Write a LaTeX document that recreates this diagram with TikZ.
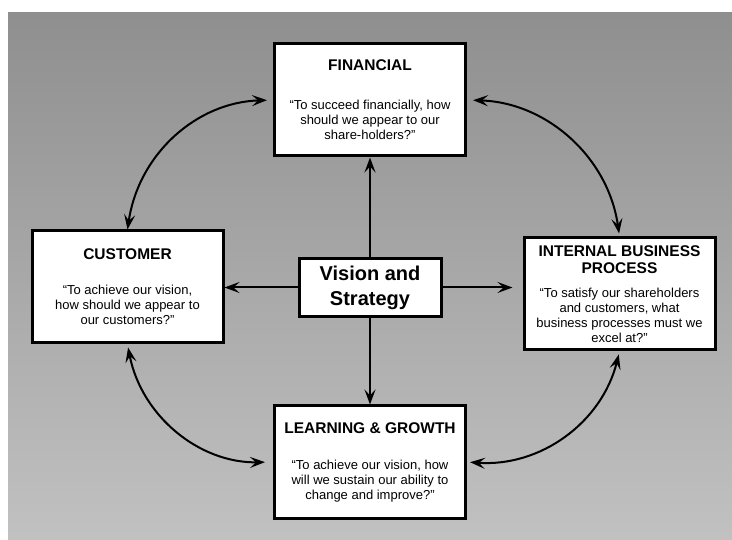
\documentclass[tikz,border=0pt]{standalone}
\usepackage{fontspec}
\setmainfont{Liberation Sans}
\usetikzlibrary{arrows.meta}
\definecolor{bgtop}{RGB}{143,143,143}
\definecolor{bgbottom}{RGB}{193,193,193}
\newcommand{\bodysize}{\fontsize{13}{15}\selectfont}
\newcommand{\headsize}{\fontsize{15.5}{16}\selectfont\bfseries}

\begin{document}
\begin{tikzpicture}[x=1pt,y=1pt,
    panel/.style={draw=black, line width=3pt, fill=white, align=center,
      font=\bodysize, inner sep=0pt, minimum width=191pt, minimum height=112pt},
    core/.style={panel, font=\fontsize{20}{25}\selectfont\bfseries,
      minimum width=142pt, minimum height=58pt},
    spoke/.style={line width=2pt, -{Stealth[length=15pt,width=11pt,inset=6pt]}},
    linkarc/.style={line width=2pt,
      {Stealth[length=15pt,width=11pt,inset=6pt]}-{Stealth[length=15pt,width=11pt,inset=6pt]}}]
  % background
  \fill[white] (0,0) rectangle (732,539);
  \shade[top color=bgtop, bottom color=bgbottom] (8,0) rectangle (732,526);
  % boxes
  \node[panel] (fin) at (370,439)
    {{\headsize FINANCIAL}\\[24pt]
     “To succeed financially, how\\ should we appear to our\\ share-holders?”};
  \node[panel] (cust) at (127.5,252)
    {{\headsize CUSTOMER}\\[20pt]
     “To achieve our vision,\\ how should we appear to\\ our customers?”};
  \node[panel] (int) at (619.5,245)
    {{\headsize INTERNAL BUSINESS}\\[1.5pt]{\headsize PROCESS}\\[9pt]
     “To satisfy our shareholders\\ and customers, what\\ business processes must we\\ excel at?”};
  \node[panel] (learn) at (370,77)
    {{\headsize LEARNING \& GROWTH}\\[21pt]
     “To achieve our vision, how\\ will we sustain our ability to\\ change and improve?”};
  \node[core] (core) at (370,251.5) {Vision and\\ Strategy};
  % spokes
  \draw[spoke] (core.north) -- (fin.south);
  \draw[spoke] (core.south) -- (learn.north);
  \draw[spoke] (core.west) -- (core.west -| cust.east);
  \draw[spoke, shorten >=10pt] (core.east) -- (core.east -| int.west);
  % arcs
  \draw[linkarc, shorten <=6pt] (fin.west) to[bend right=40] (cust.north);
  \draw[linkarc, shorten <=6pt, shorten >=3pt] (fin.east) to[bend left=40] (int.north);
  \draw[linkarc, shorten <=3pt, shorten >=8pt] (cust.south) to[bend right=40] (learn.west);
  \draw[linkarc, shorten <=3pt, shorten >=3pt] (learn.east) to[bend right=40] (int.south);
\end{tikzpicture}
\end{document}
